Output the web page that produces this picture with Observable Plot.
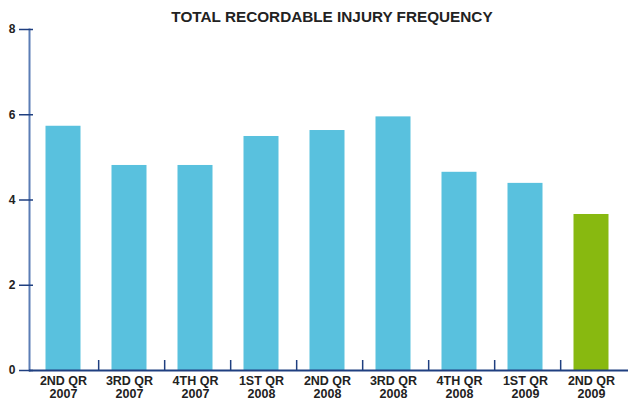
<!DOCTYPE html>
<html>
<head>
<meta charset="utf-8">
<script src="https://cdn.jsdelivr.net/npm/d3@7"></script>
<script src="https://cdn.jsdelivr.net/npm/@observablehq/plot@0.6"></script>
<style>
  body { margin: 0; background: #fff; }
  #title { width: 628px; height: 22px; box-sizing: border-box; padding-top: 9px; padding-left: 36px; text-align: center;
           font: bold 15.3px "Liberation Sans", Arial, sans-serif; line-height: 15px; color: #222; overflow: visible; }
</style>
</head>
<body>
<div id="title">TOTAL RECORDABLE INJURY FREQUENCY</div>
<div id="chart"></div>
<script>
const quarters = ["2ND QR", "3RD QR", "4TH QR", "1ST QR", "2ND QR", "3RD QR", "4TH QR", "1ST QR", "2ND QR"];
const years = ["2007", "2007", "2007", "2008", "2008", "2008", "2008", "2009", "2009"];
const values = [5.73, 4.81, 4.81, 5.49, 5.63, 5.95, 4.65, 4.39, 3.66];
const highlight = [false, false, false, false, false, false, false, false, true];
const yTicks = [0, 2, 4, 6, 8];

const cats = quarters.map((q, i) => q + "\n" + years[i]);
const data = cats.map((c, i) => ({cat: c, value: values[i], hl: highlight[i]}));

const W = 628, ML = 29, MR = -1;
const step = (W - ML - MR) / cats.length;
const font = '"Liberation Sans", Arial, sans-serif';

const plot = Plot.plot({
  width: W,
  height: 381,
  marginLeft: ML,
  marginRight: MR,
  marginTop: 7,
  marginBottom: 33,
  style: {fontFamily: font, overflow: "visible", background: "transparent"},
  x: {domain: cats, paddingInner: 0.47, paddingOuter: 0.235, label: null},
  y: {domain: [0, 8], label: null},
  marks: [
    Plot.barY(data, {x: "cat", y: "value", fill: d => d.hl ? "#88b910" : "#59c1de", dx: -2.5}),
    Plot.frame({anchor: "left", stroke: "#5b7db5", strokeWidth: 2}),
    Plot.ruleY([0], {stroke: "#1f3f80", strokeWidth: 2}),
    Plot.ruleX(cats.slice(1), {x: d => d, y1: 0, y2: 0.235, dx: -step / 2, stroke: "#1f3f80", strokeWidth: 1.5}),
    Plot.axisY({ticks: yTicks, tickSize: 14, dx: 4, tickPadding: 4, stroke: "#1f3f80", strokeWidth: 1.5,
                fill: "#222", fontWeight: "bold", fontSize: 12, label: null}),
    Plot.axisX({tickSize: 0, tickPadding: 5, fill: "#222", fontWeight: "bold", fontSize: 12.5,
                lineHeight: 1.05, label: null, dx: -2.5})
  ]
});
document.getElementById("chart").appendChild(plot);
</script>
</body>
</html>
